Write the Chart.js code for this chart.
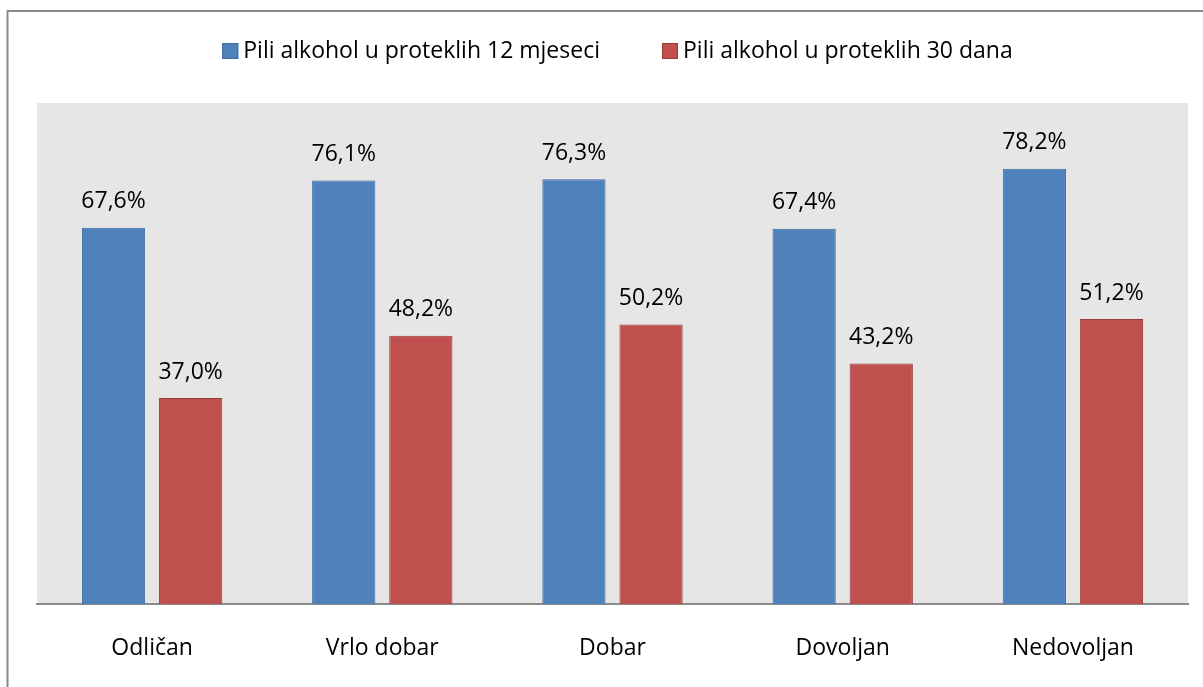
<!DOCTYPE html>
<html>
<head>
<meta charset="utf-8">
<script src="https://cdn.jsdelivr.net/npm/chart.js@4"></script>
<style>
  html, body { margin: 0; padding: 0; background: #fff; }
  #wrap { width: 1203px; height: 687px; }
</style>
</head>
<body>
<div id="wrap"><canvas id="chart" width="1203" height="687"></canvas></div>
<script>
var categories = ["Odličan", "Vrlo dobar", "Dobar", "Dovoljan", "Nedovoljan"];
var seriesNames = ["Pili alkohol u proteklih 12 mjeseci", "Pili alkohol u proteklih 30 dana"];
var months12 = [67.6, 76.1, 76.3, 67.4, 78.2];
var days30 = [37.0, 48.2, 50.2, 43.2, 51.2];

var FONT = "'Open Sans', 'Liberation Sans', sans-serif";

// grey plot area + outer frame
var background = {
  id: "background",
  beforeDraw: function (chart) {
    var ctx = chart.ctx, a = chart.chartArea;
    ctx.save();
    ctx.fillStyle = "#e6e6e6";
    ctx.fillRect(a.left, a.top, a.right - a.left, a.bottom - a.top);
    ctx.strokeStyle = "#8a8a8a";
    ctx.lineWidth = 2;
    ctx.beginPath();
    ctx.moveTo(7.5, chart.height);
    ctx.lineTo(7.5, 11);
    ctx.lineTo(chart.width, 11);
    ctx.stroke();
    ctx.restore();
  }
};

// value labels above bars
var valueLabels = {
  id: "valueLabels",
  afterDatasetsDraw: function (chart) {
    var ctx = chart.ctx;
    ctx.save();
    ctx.font = "23px " + FONT;
    ctx.fillStyle = "#000";
    ctx.textAlign = "center";
    ctx.textBaseline = "middle";
    chart.data.datasets.forEach(function (ds, i) {
      chart.getDatasetMeta(i).data.forEach(function (bar, j) {
        ctx.fillText(ds.data[j].toFixed(1).replace(".", ",") + "%", bar.x, bar.y - 26);
      });
    });
    ctx.restore();
  }
};

// legend drawn by hand, centered at top
var topLegend = {
  id: "topLegend",
  afterDraw: function (chart) {
    var ctx = chart.ctx;
    var box = 16, gapText = 5, gapItem = 62;
    ctx.save();
    ctx.font = "23px " + FONT;
    ctx.textBaseline = "middle";
    var widths = chart.data.datasets.map(function (ds) {
      return box + gapText + ctx.measureText(ds.label).width;
    });
    var total = widths.reduce(function (s, w) { return s + w; }, 0) + gapItem * (widths.length - 1);
    var x = 617.5 - total / 2, y = 51;
    chart.data.datasets.forEach(function (ds, i) {
      ctx.fillStyle = ds.backgroundColor;
      ctx.fillRect(x, y - box / 2, box, box);
      ctx.strokeStyle = ds.borderColor;
      ctx.lineWidth = 1;
      ctx.strokeRect(x + 0.5, y - box / 2 + 0.5, box - 1, box - 1);
      ctx.fillStyle = "#000";
      ctx.fillText(ds.label, x + box + gapText, y);
      x += widths[i] + gapItem;
    });
    ctx.restore();
  }
};

new Chart(document.getElementById("chart"), {
  type: "bar",
  data: {
    labels: categories,
    datasets: [{
      label: seriesNames[0],
      data: months12,
      backgroundColor: "#4f81bd",
      borderColor: "#3d6a9f",
      borderWidth: 1
    }, {
      label: seriesNames[1],
      data: days30,
      backgroundColor: "#c0504d",
      borderColor: "#9c3c39",
      borderWidth: 1
    }]
  },
  options: {
    responsive: false,
    animation: false,
    categoryPercentage: 0.67,
    barPercentage: 0.82,
    layout: { padding: { top: 103, left: 37, right: 15, bottom: 0 } },
    plugins: {
      legend: { display: false },
      tooltip: { enabled: false }
    },
    scales: {
      x: {
        grid: { display: false, drawTicks: false },
        border: { display: true, color: "#8a8a8a", width: 2 },
        ticks: { color: "#000", font: { family: FONT, size: 23 }, padding: 31 },
        afterFit: function (scale) { scale.height = 83; }
      },
      y: {
        display: false,
        min: 0,
        max: 90
      }
    }
  },
  plugins: [background, valueLabels, topLegend]
});
</script>
</body>
</html>
